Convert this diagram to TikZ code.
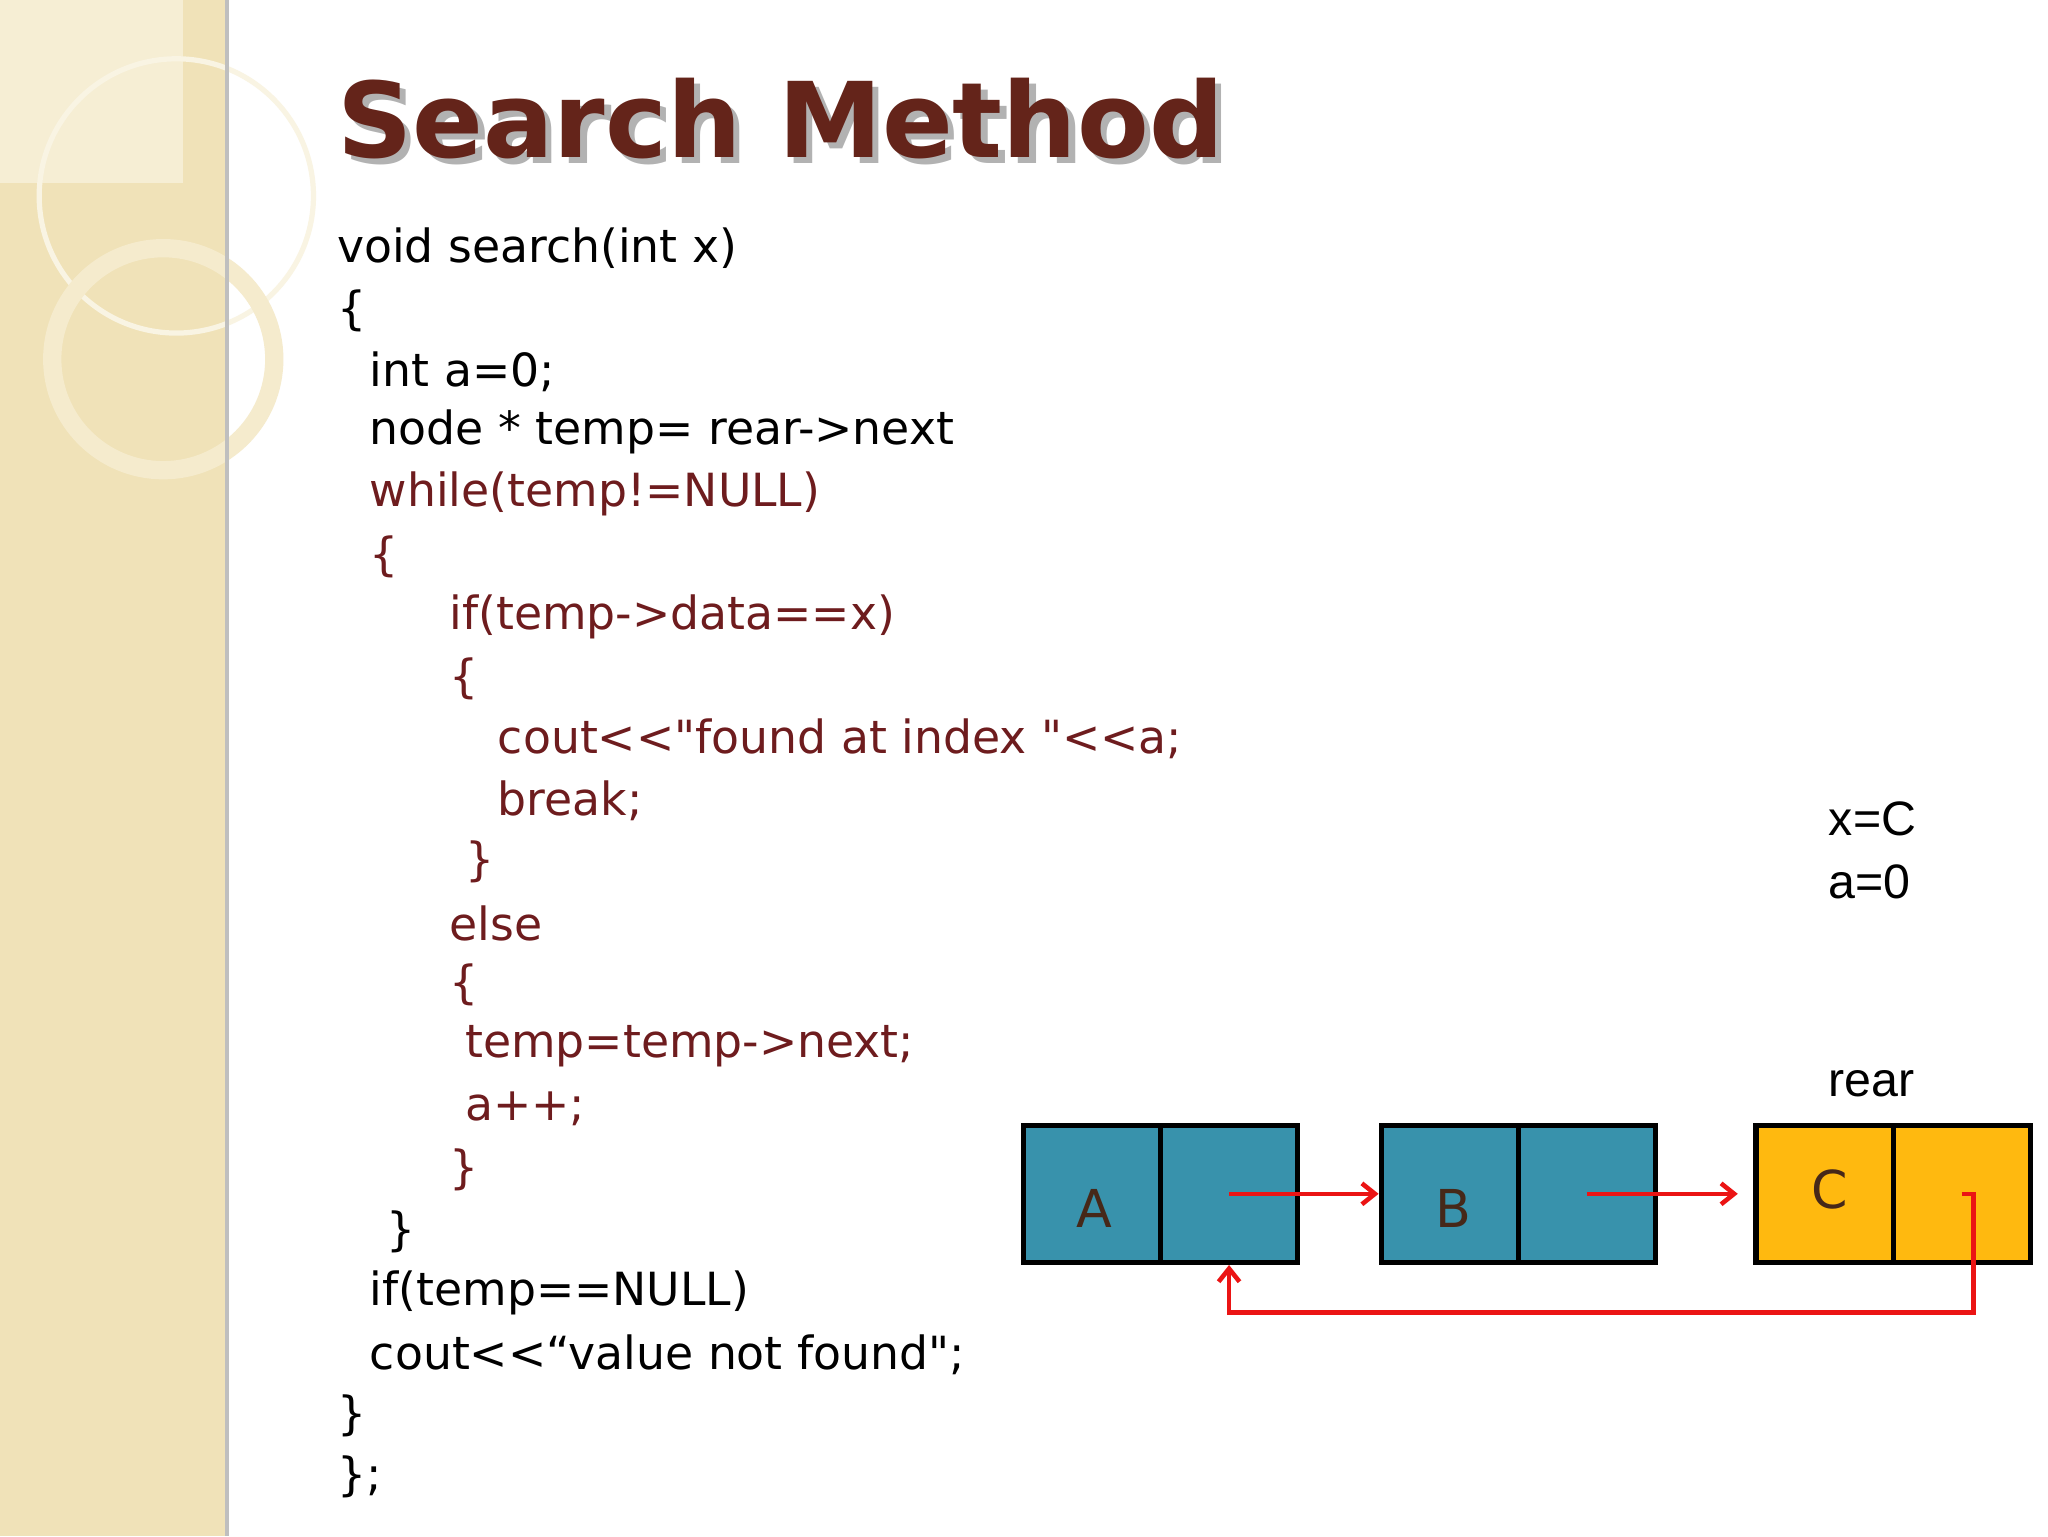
\documentclass[tikz,border=0pt]{standalone}
\usepackage{fontspec}
\setmainfont{DejaVu Sans}[Ligatures=TeXOff]
\newfontfamily\arialf{Liberation Sans}
\usetikzlibrary{arrows.meta}
\definecolor{bg}{RGB}{240,226,184}
\definecolor{dred}{RGB}{110,28,30}
\definecolor{ttl}{RGB}{100,36,26}
\definecolor{teal}{RGB}{56,146,172}
\definecolor{gold}{RGB}{255,185,15}
\definecolor{arr}{RGB}{235,20,20}
\definecolor{lbl}{RGB}{70,40,25}
\begin{document}
\begin{tikzpicture}[x=1pt,y=-1pt,
  code/.style={anchor=west,inner sep=0,font=\fontsize{35}{35}\selectfont},
  red code/.style={code,text=dred},
  cell/.style={draw=black,line width=4pt,minimum width=105pt,minimum height=105pt,inner sep=0},
  lab/.style={inner sep=0,font=\fontsize{40}{40}\selectfont,text=lbl},
  link/.style={draw=arr,line width=3.5pt,-{Straight Barb[length=10pt,width=16pt]}}]
\useasboundingbox (0,0) rectangle (1568,1176);
\fill[white] (0,0) rectangle (1568,1176);
\fill[bg] (0,0) rectangle (172,1176);
\fill[white!40!bg] (0,0) rectangle (140,140);
\draw[white!60!bg,line width=4pt] (135,150) circle (105);
\draw[white!30!bg,line width=14pt] (125,275) circle (85);
\fill[black!25] (172,0) rectangle (175,1176);
\node[anchor=west,inner sep=0,font=\fontsize{80}{80}\selectfont\bfseries,text=black!30] at (263,95) {Search Method};
\node[anchor=west,inner sep=0,font=\fontsize{80}{80}\selectfont\bfseries,text=ttl] (title) at (258,91) {Search Method};
\node[code] (l1) at (258,190) {void search(int x)};
\node[code] (l2) at (258,238) {\{};
\node[code] (l3) at (283,285) {int a=0;};
\node[code] (l4) at (283,331) {node * temp= rear->next};
\node[red code] (l5) at (283,378) {while(temp!=NULL)};
\node[red code] (l6) at (283,426) {\{};
\node[red code] (l7) at (344,472) {if(temp->data==x)};
\node[red code] (l8) at (344,520) {\{};
\node[red code] (l9) at (381,566) {cout<{}<"found at index "<{}<a;};
\node[red code] (l10) at (381,613) {break;};
\node[red code] (l11) at (356,660) {\}};
\node[red code] (l12) at (344,707) {else};
\node[red code] (l13) at (344,754) {\{};
\node[red code] (l14) at (356,801) {temp=temp->next;};
\node[red code] (l15) at (356,849) {a++;};
\node[red code] (l16) at (344,896) {\}};
\node[code] (l17) at (296,943) {\}};
\node[code] (l18) at (283,990) {if(temp==NULL)};
\node[code] (l19) at (283,1037) {cout<{}<“value not found";};
\node[code] (l20) at (258,1084) {\}};
\node[code] (l21) at (258,1131) {\};};
\node[code,font=\arialf\fontsize{37}{37}\selectfont] (xc) at (1400,627) {x=C};
\node[code,font=\arialf\fontsize{37}{37}\selectfont] (a0) at (1400,675) {a=0};
\node[code,font=\arialf\fontsize{37}{37}\selectfont] (rear) at (1400,830) {rear};
\node[cell,fill=teal] (A) at (836,914) {};
\node[cell,fill=teal] (Ap) at (941,914) {};
\node[cell,fill=teal] (B) at (1110,914) {};
\node[cell,fill=teal] (Bp) at (1215,914) {};
\node[cell,fill=gold] (C) at (1397,914) {};
\node[cell,fill=gold] (Cp) at (1502,914) {};
\node[lab] (la) at (838,925) {A};
\node[lab] (lb) at (1113,925) {B};
\node[lab] (lc) at (1401,911) {C};
\draw[link] (Ap.center) -- (B.west);
\draw[link] (Bp.center) -- ([xshift=-12pt]C.west);
\coordinate (c1) at ([xshift=9pt]Cp.center);
\coordinate (c2) at ([xshift=9pt,yshift=-91pt]Cp.center);
\coordinate (c3) at ([yshift=-91pt]Ap.center);
\draw[link] (Cp.center) -- (c1) -- (c2) -- (c3) -- (Ap.south);
\end{tikzpicture}
\end{document}
